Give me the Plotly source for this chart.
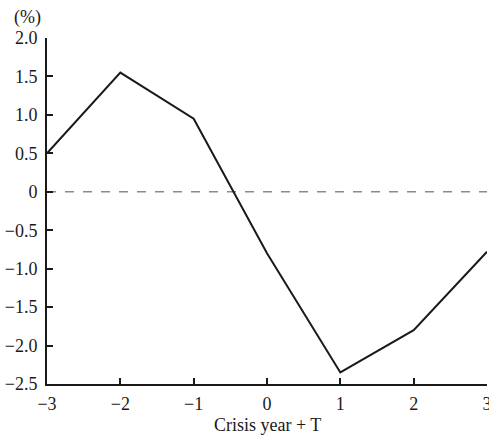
import plotly.graph_objects as go

x_vals = [-3, -2, -1, 0, 1, 2, 3]
y_vals = [0.5, 1.55, 0.95, -0.8, -2.35, -1.8, -0.78]
y_ticks = [2.0, 1.5, 1.0, 0.5, 0, -0.5, -1.0, -1.5, -2.0, -2.5]
y_ticktext = ["2.0", "1.5", "1.0", "0.5", "0", "\u22120.5", "\u22121.0", "\u22121.5", "\u22122.0", "\u22122.5"]
x_ticks = [-3, -2, -1, 0, 1, 2, 3]
x_ticktext = ["\u22123", "\u22122", "\u22121", "0", "1", "2", "3"]

fig = go.Figure()
fig.add_trace(go.Scatter(x=[-3, 3], y=[0, 0], mode="lines",
                         line=dict(color="#8a8a8a", width=1.5, dash="dash"),
                         hoverinfo="skip", showlegend=False))
fig.add_trace(go.Scatter(x=x_vals, y=y_vals, mode="lines",
                         line=dict(color="#1a1a1a", width=2),
                         showlegend=False))

font = dict(family="Liberation Serif, Times New Roman, serif", size=18, color="#1a1a1a")
fig.update_layout(
    width=489, height=436,
    margin=dict(l=47, r=2, t=38, b=52, autoexpand=False),
    paper_bgcolor="white", plot_bgcolor="white",
    font=font,
    xaxis=dict(range=[-3, 3], tickvals=x_ticks, ticktext=x_ticktext,
               showgrid=False, zeroline=False, showline=True,
               linecolor="#1a1a1a", linewidth=2, automargin=False,
               ticks="inside", ticklen=6, tickwidth=2, tickcolor="#1a1a1a",
               ticklabeloverflow="allow", ticklabelstandoff=2),
    yaxis=dict(range=[-2.5, 2.0], tickvals=y_ticks, ticktext=y_ticktext,
               showgrid=False, zeroline=False, showline=True,
               linecolor="#1a1a1a", linewidth=2, automargin=False,
               ticks="inside", ticklen=6, tickwidth=2, tickcolor="#1a1a1a",
               ticklabeloverflow="allow", ticklabelstandoff=4),
    annotations=[
        dict(text="(%)", xref="paper", yref="paper", x=-0.01, y=1.0,
             xanchor="right", yanchor="bottom", yshift=8, showarrow=False, font=font),
        dict(text="Crisis year + T", xref="paper", yref="paper", x=0.5, y=0,
             xanchor="center", yanchor="middle", yshift=-41, showarrow=False, font=font),
    ],
)
fig.write_html("out.html")
